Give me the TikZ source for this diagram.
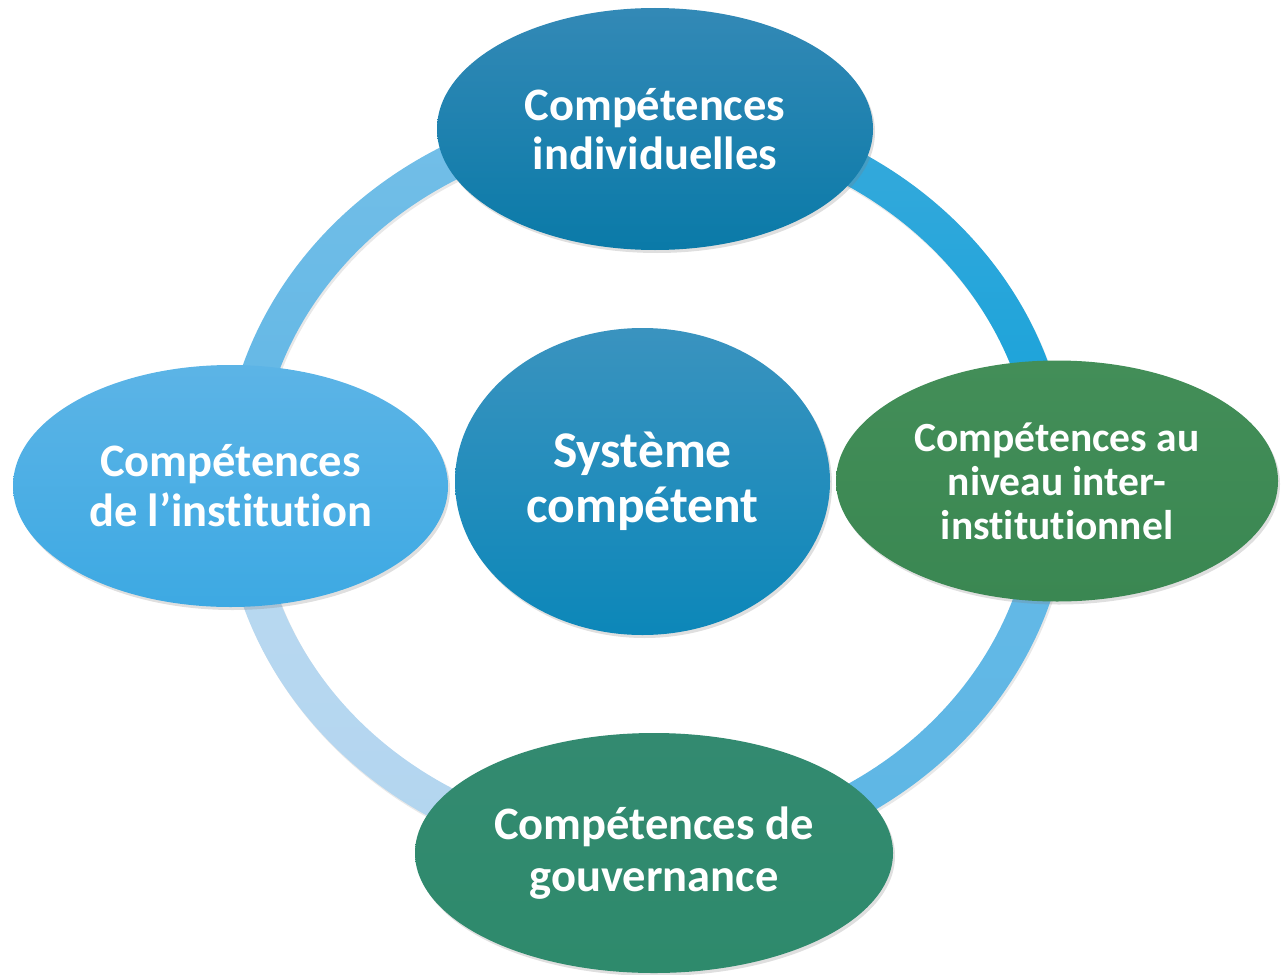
\documentclass[tikz,border=0pt]{standalone}
\usepackage{fontspec}
\setmainfont{Carlito}[RawFeature={-liga}]
\usetikzlibrary{shapes.geometric,shadows,calc}
\definecolor{ringULa}{HTML}{74BFE8}
\definecolor{ringULb}{HTML}{60B6E5}
\definecolor{ringURa}{HTML}{38AADC}
\definecolor{ringURb}{HTML}{14A1D9}
\definecolor{ringLLa}{HTML}{BAD9F1}
\definecolor{ringLLb}{HTML}{B2D5EF}
\definecolor{ringLRa}{HTML}{64B9E6}
\definecolor{ringLRb}{HTML}{5EB6E5}
\definecolor{topA}{HTML}{3389B6}
\definecolor{topB}{HTML}{0A7AA8}
\definecolor{ctrA}{HTML}{3A93BF}
\definecolor{ctrB}{HTML}{0C87B9}
\definecolor{leftA}{HTML}{5CB4E6}
\definecolor{leftB}{HTML}{3DA9E3}
\definecolor{rightA}{HTML}{438E58}
\definecolor{rightB}{HTML}{3A8752}
\definecolor{botA}{HTML}{338A70}
\definecolor{botB}{HTML}{2E8A6C}
\begin{document}
\begin{tikzpicture}[x=1pt,y=-1pt,
  bub/.style={ellipse, inner sep=0pt, text=white, align=center,
    drop shadow={shadow xshift=2pt, shadow yshift=-3pt, opacity=0.25}},
  ringseg/.style={drop shadow={shadow xshift=1.5pt, shadow yshift=-2.5pt, opacity=0.18}}]
\useasboundingbox (0,0) rectangle (1281,974);
\coordinate (rc) at (646,485);
% ring segments (outer 424x386, inner 388x350)
\shade[ringseg, top color=ringULa, bottom color=ringULb]
  ($(rc)+(180:424 and 386)$) arc[start angle=180, end angle=270, x radius=424, y radius=386]
  -- ($(rc)+(270:388 and 350)$) arc[start angle=270, end angle=180, x radius=388, y radius=350] -- cycle;
\shade[ringseg, top color=ringURa, bottom color=ringURb]
  ($(rc)+(270:424 and 386)$) arc[start angle=270, end angle=360, x radius=424, y radius=386]
  -- ($(rc)+(360:388 and 350)$) arc[start angle=360, end angle=270, x radius=388, y radius=350] -- cycle;
\shade[ringseg, top color=ringLRa, bottom color=ringLRb]
  ($(rc)+(0:424 and 386)$) arc[start angle=0, end angle=90, x radius=424, y radius=386]
  -- ($(rc)+(90:388 and 350)$) arc[start angle=90, end angle=0, x radius=388, y radius=350] -- cycle;
\shade[ringseg, top color=ringLLa, bottom color=ringLLb]
  ($(rc)+(90:424 and 386)$) arc[start angle=90, end angle=180, x radius=424, y radius=386]
  -- ($(rc)+(180:388 and 350)$) arc[start angle=180, end angle=90, x radius=388, y radius=350] -- cycle;
% ellipses
\node[bub, minimum width=436pt, minimum height=242pt, top color=topA, bottom color=topB,
  font=\bfseries\fontsize{46.5}{49}\selectfont] (indiv) at (655,129) {Compétences\\individuelles};
\node[bub, minimum width=375pt, minimum height=307pt, top color=ctrA, bottom color=ctrB,
  font=\bfseries\fontsize{51.5}{55}\selectfont] (sys) at (642.5,481.5) {Système\\compétent};
\node[bub, minimum width=435pt, minimum height=242pt, top color=leftA, bottom color=leftB,
  font=\bfseries\fontsize{46.5}{50}\selectfont] (inst) at (230.5,486) {Compétences\\de l’institution};
\node[bub, minimum width=442pt, minimum height=241pt, top color=rightA, bottom color=rightB,
  font=\bfseries\fontsize{41.5}{44}\selectfont] (inter) at (1057,481) {Compétences au\\niveau inter-\\institutionnel};
\node[bub, minimum width=478pt, minimum height=240pt, top color=botA, bottom color=botB,
  font=\bfseries\fontsize{46.5}{52}\selectfont] (gouv) at (654,853) {Compétences de\\gouvernance};
\end{tikzpicture}
\end{document}
